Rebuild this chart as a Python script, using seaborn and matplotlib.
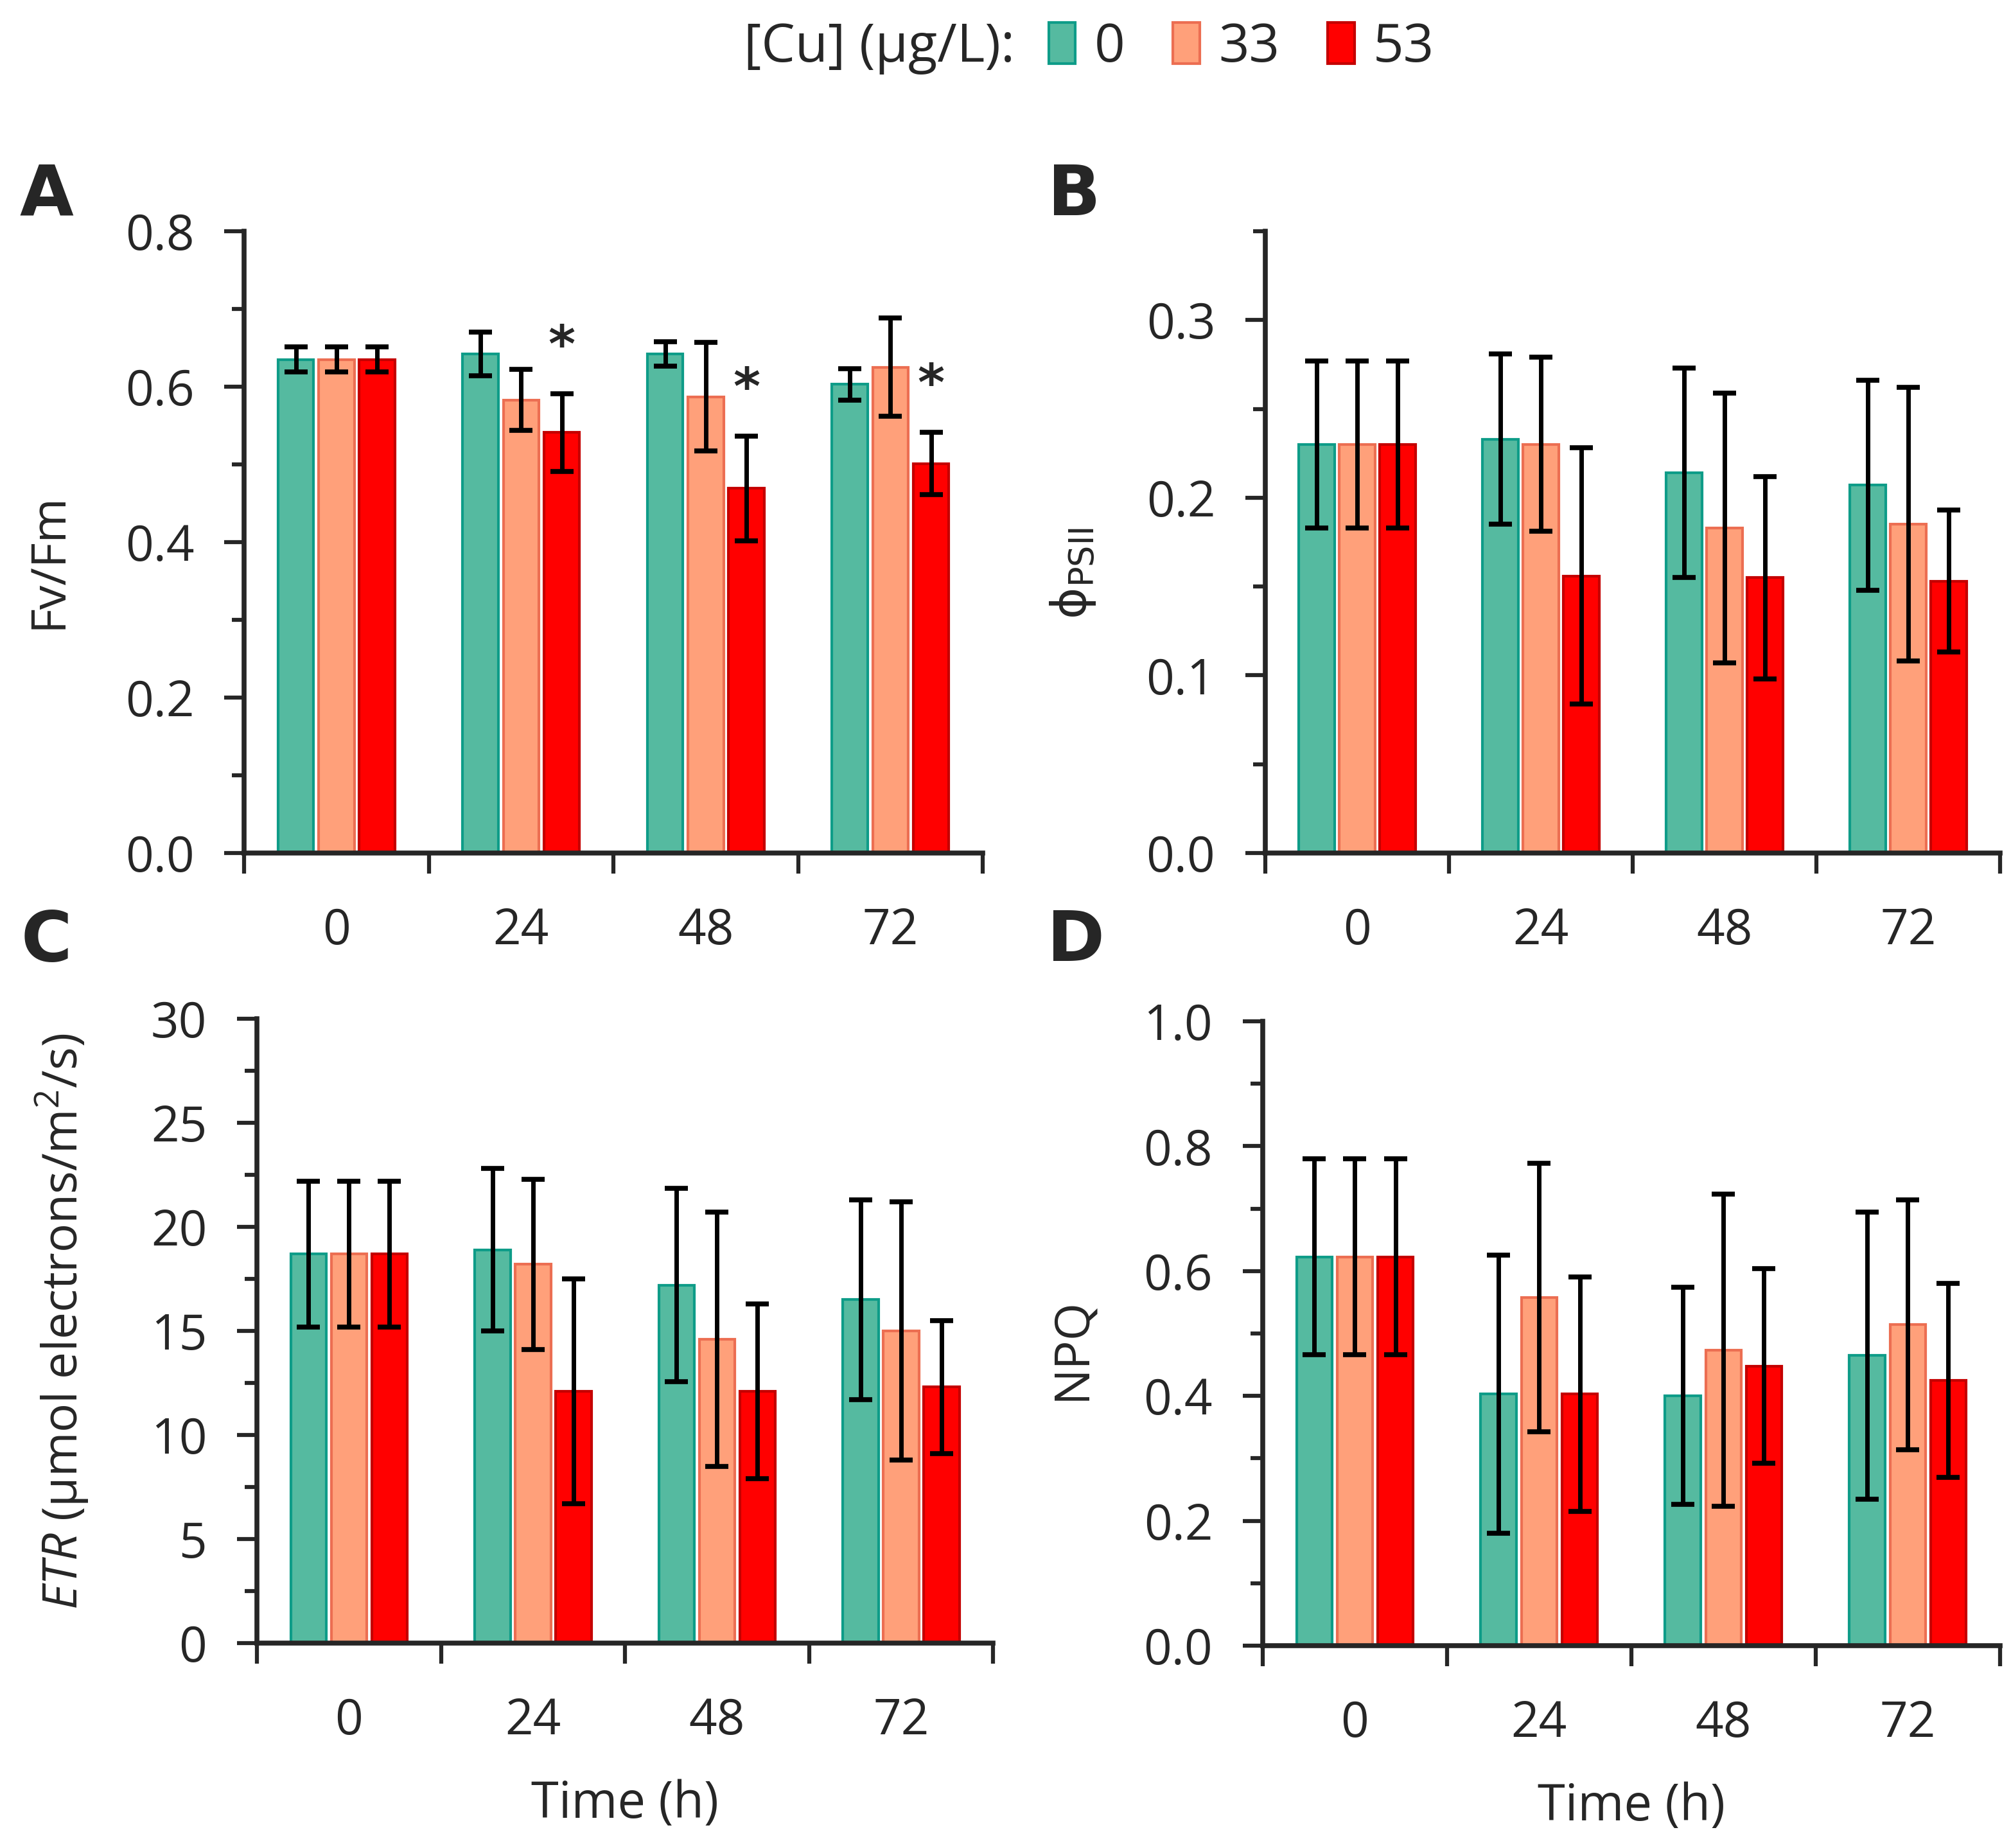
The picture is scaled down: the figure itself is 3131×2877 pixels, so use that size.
import numpy as np
import pandas as pd
import matplotlib.pyplot as plt
import matplotlib.ticker as mticker
from matplotlib.container import BarContainer
import seaborn as sns

# categories
times = ["0", "24", "48", "72"]
cu_levels = ["0", "33", "53"]

# panel A: Fv/Fm (mean and error per Cu level, along time)
fvfm_0 = [0.635, 0.642, 0.642, 0.603]
fvfm_33 = [0.635, 0.583, 0.587, 0.625]
fvfm_53 = [0.635, 0.541, 0.469, 0.501]
fvfm_err_0 = [0.016, 0.028, 0.016, 0.020]
fvfm_err_33 = [0.016, 0.039, 0.070, 0.063]
fvfm_err_53 = [0.016, 0.050, 0.067, 0.040]
fvfm_sig_53 = [False, True, True, True]

# panel B: phi PSII
phi_0 = [0.230, 0.233, 0.214, 0.207]
phi_33 = [0.230, 0.230, 0.183, 0.185]
phi_53 = [0.230, 0.156, 0.155, 0.153]
phi_err_0 = [0.047, 0.048, 0.059, 0.059]
phi_err_33 = [0.047, 0.049, 0.076, 0.077]
phi_err_53 = [0.047, 0.072, 0.057, 0.040]

# panel C: ETR
etr_0 = [18.7, 18.9, 17.2, 16.5]
etr_33 = [18.7, 18.2, 14.6, 15.0]
etr_53 = [18.7, 12.1, 12.1, 12.3]
etr_err_0 = [3.5, 3.9, 4.65, 4.8]
etr_err_33 = [3.5, 4.1, 6.1, 6.2]
etr_err_53 = [3.5, 5.4, 4.2, 3.2]

# panel D: NPQ
npq_0 = [0.623, 0.403, 0.400, 0.465]
npq_33 = [0.623, 0.558, 0.473, 0.514]
npq_53 = [0.623, 0.403, 0.448, 0.425]
npq_err_0 = [0.157, 0.223, 0.174, 0.230]
npq_err_33 = [0.157, 0.215, 0.250, 0.200]
npq_err_53 = [0.157, 0.188, 0.156, 0.155]

fill_colors = ["#55BAA0", "#FFA07A", "#FF0000"]
edge_colors = ["#0E9C88", "#EC6E52", "#C40000"]

sns.set_style("ticks")
plt.rcParams["font.family"] = ["Open Sans", "DejaVu Sans"]
plt.rcParams["mathtext.fontset"] = "custom"
plt.rcParams["mathtext.rm"] = "Open Sans"
plt.rcParams["mathtext.it"] = "Open Sans:italic"
plt.rcParams["mathtext.bf"] = "Open Sans:bold"


def long_frame(series):
    rows = []
    for level, vals in zip(cu_levels, series):
        for t, v in zip(times, vals):
            rows.append({"time": t, "cu": level, "value": v})
    return pd.DataFrame(rows)


def draw_panel(ax, series, errors, ylim, major, minor, fmt, ylabel, label_pos, sig=None):
    df = long_frame(series)
    sns.barplot(data=df, x="time", y="value", hue="cu", order=times,
                hue_order=cu_levels, palette=fill_colors, saturation=1,
                width=0.66, gap=0.12, errorbar=None, legend=False,
                linewidth=3, ax=ax)
    bars = [c for c in ax.containers if isinstance(c, BarContainer)]
    for cont, ec, err in zip(bars, edge_colors, errors):
        xs, hs = [], []
        for p in cont.patches:
            p.set_edgecolor(ec)
            xs.append(p.get_x() + p.get_width() / 2)
            hs.append(p.get_height())
        ax.errorbar(xs, hs, yerr=err, fmt="none", ecolor="black",
                    elinewidth=5, capsize=13, capthick=5.5, zorder=4)
    if sig is not None:
        for p, e, s in zip(bars[-1].patches, errors[-1], sig):
            if s:
                ax.annotate("*", xy=(p.get_x() + p.get_width() / 2, p.get_height() + e),
                            xytext=(0, 36), textcoords="offset points",
                            ha="center", va="baseline", fontsize=58,
                            fontweight="bold", family="DejaVu Sans")

    sns.despine(ax=ax)
    for side in ["left", "bottom"]:
        ax.spines[side].set_linewidth(5.5)
    ax.set_ylim(*ylim)
    ax.yaxis.set_major_locator(mticker.MultipleLocator(major))
    ax.yaxis.set_minor_locator(mticker.MultipleLocator(minor))
    ax.yaxis.set_major_formatter(mticker.FormatStrFormatter(fmt))
    ax.tick_params(axis="y", which="major", length=22, width=4.5, pad=34,
                   labelsize=55, direction="out")
    ax.tick_params(axis="y", which="minor", length=14, width=4.5, direction="out")

    ax.set_xlim(-0.5, len(times) - 0.5)
    ax.set_xticks(np.arange(len(times) + 1) - 0.5, labels=[""] * (len(times) + 1))
    ax.set_xticks(np.arange(len(times)), labels=times, minor=True)
    ax.tick_params(axis="x", which="major", length=23, width=4.5, direction="out")
    ax.tick_params(axis="x", which="minor", length=0, pad=60, labelsize=55)

    ax.set_xlabel("")
    ax.set_ylabel(ylabel, fontsize=54)
    ax.yaxis.label.set_va("center")
    ax.yaxis.set_label_coords(*label_pos)
    return bars


fig = plt.figure(figsize=(31.31, 28.77), dpi=100)
ax_a = fig.add_axes([0.1214, 0.5384, 0.3673, 0.3365])
ax_b = fig.add_axes([0.6292, 0.5384, 0.3654, 0.3365])
ax_c = fig.add_axes([0.1278, 0.1109, 0.3660, 0.3378])
ax_d = fig.add_axes([0.6279, 0.1095, 0.3666, 0.3378])

bars_a = draw_panel(ax_a, [fvfm_0, fvfm_33, fvfm_53],
                    [fvfm_err_0, fvfm_err_33, fvfm_err_53],
                    (0, 0.8), 0.2, 0.1, "%.1f", "Fv/Fm", (-0.264, 0.47), sig=fvfm_sig_53)
draw_panel(ax_b, [phi_0, phi_33, phi_53],
           [phi_err_0, phi_err_33, phi_err_53],
           (0, 0.35), 0.1, 0.05, "%.1f", r"$\mathrm{\phi_{PSII}}$", (-0.262, 0.45))
ax_b.yaxis.label.set_math_fontfamily("dejavusans")
draw_panel(ax_c, [etr_0, etr_33, etr_53],
           [etr_err_0, etr_err_33, etr_err_53],
           (0, 30), 5, 2.5, "%d", r"$\mathit{ETR}$ (μmol electrons/m$^{2}$/s)",
           (-0.265, 0.515))
draw_panel(ax_d, [npq_0, npq_33, npq_53],
           [npq_err_0, npq_err_33, npq_err_53],
           (0, 1.0), 0.2, 0.1, "%.1f", "NPQ", (-0.258, 0.475))

for ax in [ax_c, ax_d]:
    ax.set_xlabel("Time (h)", fontsize=56)
    ax.xaxis.label.set_va("center")
    ax.xaxis.set_label_coords(0.5, -0.259)

# panel letters
for x, y, letter in [(0.023, 0.894, "A"), (0.534, 0.894, "B"),
                     (0.023, 0.4905, "C"), (0.535, 0.4905, "D")]:
    fig.text(x, y, letter, fontsize=78, fontweight="bold",
             family="DejaVu Sans", ha="center", va="center")

# legend across the top
handles = [cont.patches[0] for cont in bars_a]
fig.text(0.5046, 0.974, "[Cu] (μg/L):", fontsize=60, ha="right", va="center")
fig.legend(handles, cu_levels, loc="center left", bbox_to_anchor=(0.5215, 0.974),
           ncol=3, frameon=False, fontsize=60, handlelength=0.5, handleheight=0.8,
           handletextpad=0.35, columnspacing=0.9, borderpad=0, borderaxespad=0)

fig.savefig("out.png", dpi=100)
